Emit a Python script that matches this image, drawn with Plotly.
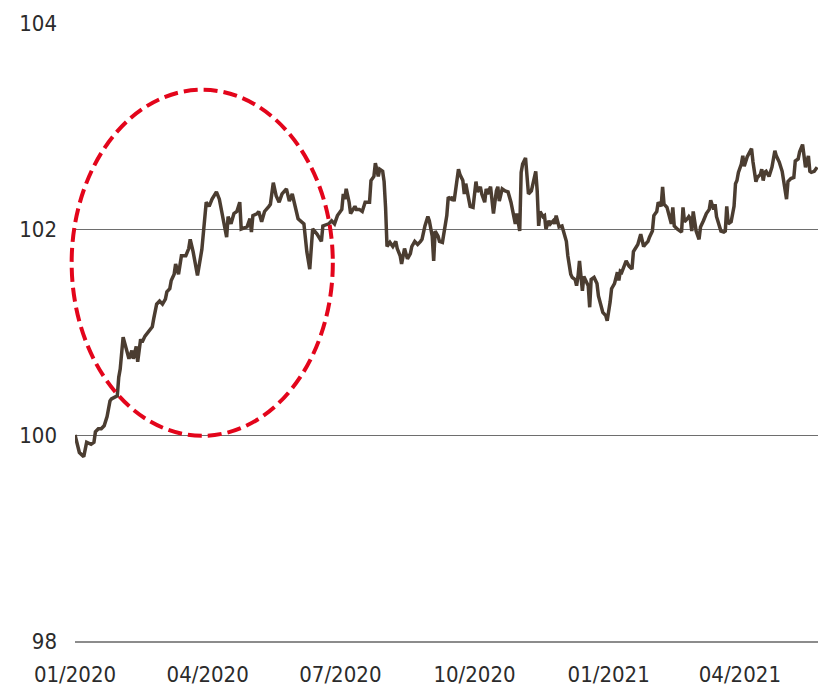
import pandas as pd
import plotly.graph_objects as go

# Index level, days counted from 2020-01-01
day_offsets = [
    0, 2, 3, 6, 8, 11, 13, 14, 16, 18, 20, 22, 24, 25, 27, 29, 30, 31, 33, 35,
    37, 39, 40, 42, 43, 45, 46, 48, 50, 53, 54, 56, 58, 60, 62, 63, 65, 66, 68, 69,
    71, 72, 73, 76, 78, 79, 81, 84, 85, 87, 90, 92, 94, 97, 99, 101, 104, 105, 107, 109,
    111, 113, 114, 118, 120, 121, 122, 125, 126, 128, 130, 133, 134, 136, 138, 140, 142, 145, 147, 149,
    151, 153, 157, 159, 161, 163, 166, 169, 170, 174, 176, 178, 180, 182, 183, 184, 185, 186, 188, 189,
    192, 193, 195, 197, 199, 202, 203, 205, 206, 208, 209, 211, 212, 213, 214, 216, 218, 220, 221, 223,
    224, 226, 228, 230, 231, 233, 235, 237, 238, 240, 242, 243, 245, 246, 247, 249, 250, 252, 253, 255,
    256, 258, 259, 260, 263, 264, 266, 267, 268, 270, 271, 273, 275, 276, 278, 279, 281, 282, 283, 285,
    286, 287, 289, 290, 291, 293, 295, 297, 299, 301, 302, 303, 305, 306, 307, 309, 310, 311, 313, 315,
    316, 317, 318, 319, 321, 322, 323, 325, 326, 328, 329, 330, 332, 334, 335, 337, 338, 340, 341, 343,
    344, 345, 346, 348, 349, 350, 352, 353, 354, 356, 358, 359, 361, 362, 364, 365, 367, 368, 370, 372,
    373, 374, 375, 377, 378, 380, 382, 383, 385, 386, 388, 390, 391, 393, 394, 396, 397, 399, 400, 402,
    403, 404, 406, 407, 409, 410, 411, 413, 416, 417, 418, 420, 421, 422, 423, 424, 426, 428, 429, 431,
    433, 435, 436, 438, 439, 440, 442, 443, 445, 446, 447, 448, 450, 452, 453, 454, 455, 457, 458, 459,
    461, 462, 464, 465, 467, 468, 470, 471, 472, 473, 474, 476, 478, 480, 481, 483, 485, 486, 488, 489,
    491, 493, 494, 496, 497, 499, 500, 501, 503, 504, 505, 507, 509,
]

index_values = [
    100.00, 99.86, 99.83, 99.79, 99.93, 99.91, 99.93, 100.03, 100.06, 100.06,
    100.09, 100.18, 100.33, 100.35, 100.37, 100.38, 100.56, 100.64, 100.95, 100.83,
    100.74, 100.82, 100.74, 100.86, 100.71, 100.93, 100.90, 100.96, 101.00, 101.05,
    101.13, 101.27, 101.30, 101.27, 101.32, 101.39, 101.42, 101.50, 101.56, 101.66,
    101.56, 101.66, 101.74, 101.74, 101.81, 101.90, 101.78, 101.55, 101.65, 101.80,
    102.26, 102.22, 102.29, 102.36, 102.29, 102.15, 101.92, 102.12, 102.05, 102.15,
    102.17, 102.26, 102.00, 102.02, 102.10, 101.97, 102.13, 102.15, 102.17, 102.07,
    102.17, 102.22, 102.24, 102.45, 102.32, 102.26, 102.34, 102.39, 102.27, 102.34,
    102.22, 102.10, 102.05, 101.78, 101.61, 102.00, 101.95, 101.88, 102.03, 102.05,
    102.08, 102.05, 102.13, 102.17, 102.19, 102.34, 102.29, 102.39, 102.26, 102.15,
    102.22, 102.19, 102.19, 102.17, 102.26, 102.26, 102.47, 102.51, 102.64, 102.51,
    102.58, 102.56, 102.46, 102.21, 101.83, 101.87, 101.83, 101.88, 101.81, 101.74,
    101.66, 101.81, 101.71, 101.76, 101.83, 101.88, 101.85, 101.88, 101.90, 102.03,
    102.12, 102.08, 101.93, 101.69, 101.98, 101.93, 101.88, 101.87, 101.97, 102.13,
    102.31, 102.29, 102.31, 102.27, 102.58, 102.53, 102.47, 102.34, 102.44, 102.26,
    102.22, 102.21, 102.46, 102.36, 102.41, 102.34, 102.26, 102.39, 102.34, 102.41,
    102.26, 102.15, 102.37, 102.41, 102.27, 102.39, 102.37, 102.36, 102.26, 102.13,
    102.05, 102.15, 101.98, 102.55, 102.63, 102.69, 102.50, 102.34, 102.37, 102.50,
    102.56, 102.37, 102.03, 102.17, 102.12, 102.13, 102.00, 102.08, 102.05, 102.08,
    102.05, 102.13, 102.02, 102.03, 101.97, 101.88, 101.74, 101.56, 101.53, 101.51,
    101.45, 101.54, 101.69, 101.40, 101.54, 101.51, 101.45, 101.24, 101.51, 101.53,
    101.47, 101.35, 101.25, 101.19, 101.16, 101.11, 101.29, 101.42, 101.47, 101.58,
    101.50, 101.59, 101.58, 101.66, 101.69, 101.64, 101.61, 101.78, 101.83, 101.85,
    101.95, 101.83, 101.85, 101.88, 101.92, 101.98, 102.13, 102.17, 102.26, 102.22,
    102.41, 102.24, 102.21, 102.15, 102.05, 102.21, 102.03, 102.00, 101.97, 102.21,
    102.07, 102.10, 102.12, 102.10, 101.98, 102.17, 101.98, 101.90, 102.02, 102.08,
    102.15, 102.19, 102.28, 102.19, 102.24, 102.12, 102.03, 101.98, 101.97, 101.98,
    102.22, 102.05, 102.07, 102.22, 102.44, 102.47, 102.55, 102.63, 102.71, 102.61,
    102.70, 102.73, 102.78, 102.65, 102.46, 102.50, 102.53, 102.58, 102.47, 102.55,
    102.56, 102.51, 102.60, 102.76, 102.71, 102.65, 102.56, 102.47, 102.29, 102.46,
    102.49, 102.50, 102.66, 102.68, 102.75, 102.82, 102.71, 102.60, 102.71, 102.56,
    102.55, 102.56, 102.60,
]

y_ticks = [98, 100, 102, 104]

start = pd.Timestamp("2020-01-01")
dates = start + pd.to_timedelta(day_offsets, unit="D")

label_font = dict(family="Liberation Sans Narrow, DejaVu Sans Condensed, sans-serif",
                  size=22, color="#2b2b2b")

fig = go.Figure()
fig.add_trace(go.Scatter(
    x=dates, y=index_values, mode="lines",
    line=dict(color="#4b3d31", width=3.5),
    showlegend=False, hoverinfo="skip",
))

# Dashed red ellipse around the first-half rally; paper coordinates so the
# left edge may extend slightly past the plotting area without being clipped
fig.add_shape(
    type="circle", xref="paper", yref="paper",
    x0=-0.0045, x1=0.347,
    y0=0.332, y1=0.892,
    line=dict(color="#e3051b", width=4, dash="14px,6px"),
    layer="above",
)

fig.update_layout(
    width=818, height=690,
    margin=dict(l=75, r=0, t=23, b=49),
    paper_bgcolor="white", plot_bgcolor="white",
    xaxis=dict(
        type="date",
        range=["2020-01-01", "2021-05-24 14:00"],
        tick0="2020-01-01", dtick="M3", tickformat="%m/%Y",
        showgrid=False, zeroline=False,
        showline=True, linecolor="#8c8c8c", linewidth=2,
        ticks="", tickfont=label_font, ticklabelstandoff=13,
    ),
    yaxis=dict(
        range=[98, 104], tickvals=y_ticks,
        showgrid=True, gridcolor="#6e6e6e", gridwidth=1,
        zeroline=False, showline=False,
        ticks="", tickfont=label_font, ticklabelstandoff=17,
    ),
)

fig.write_html("out.html")
